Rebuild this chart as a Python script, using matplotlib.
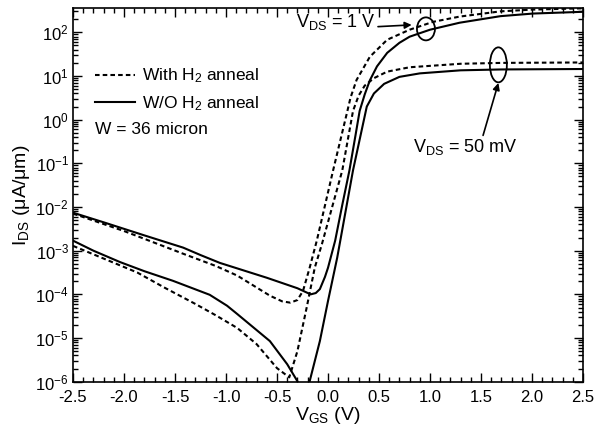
import numpy as np
import matplotlib
matplotlib.use('Agg')
import matplotlib.pyplot as plt
from matplotlib.patches import Ellipse
from matplotlib.ticker import MultipleLocator, FormatStrFormatter, LogLocator

plt.rcParams['font.family'] = ['Liberation Sans', 'DejaVu Sans']
plt.rcParams['mathtext.fontset'] = 'custom'
plt.rcParams['mathtext.rm'] = 'Liberation Sans'
plt.rcParams['mathtext.it'] = 'Liberation Sans:italic'
plt.rcParams['axes.unicode_minus'] = False

# values: V_GS (V) and log10(I_DS in uA/um)
# W/O H2 anneal, V_DS = 1 V
vgs_wo_1v = [-2.5, -2.2, -1.8, -1.42, -1.25, -1.06, -0.6, -0.3, -0.17, -0.12,
             -0.08, -0.03, 0.0, 0.07, 0.14, 0.21, 0.27, 0.31, 0.36, 0.41,
             0.48, 0.58, 0.70, 0.80, 1.0, 1.29, 1.69, 2.01, 2.5]
log_wo_1v = [-2.13, -2.35, -2.65, -2.93, -3.1, -3.28, -3.62, -3.86, -4.0, -3.97,
             -3.88, -3.6, -3.39, -2.77, -1.95, -1.16, -0.35, 0.2, 0.58, 0.9,
             1.22, 1.53, 1.76, 1.90, 2.06, 2.22, 2.37, 2.43, 2.47]

# With H2 anneal, V_DS = 1 V
vgs_h2_1v = [-2.5, -2.0, -1.42, -1.1, -0.89, -0.57, -0.45, -0.37, -0.30, -0.245,
             -0.18, -0.11, 0.05, 0.19, 0.22, 0.28, 0.41, 0.58, 0.80, 1.03,
             1.29, 1.69, 2.0, 2.5]
log_h2_1v = [-2.15, -2.55, -3.07, -3.35, -3.57, -4.03, -4.16, -4.19, -4.13, -3.92,
             -3.39, -2.77, -1.16, 0.2, 0.5, 0.91, 1.44, 1.83, 2.06, 2.24,
             2.36, 2.48, 2.52, 2.55]

# W/O H2 anneal, V_DS = 50 mV
vgs_wo_50 = [-2.5, -2.3, -2.04, -1.8, -1.52, -1.16, -0.99, -0.89, -0.57, -0.40,
             -0.30, -0.24, -0.18, -0.08, 0.0, 0.09, 0.245, 0.38, 0.45, 0.55,
             0.70, 0.90, 1.3, 1.7, 2.5]
log_wo_50 = [-2.77, -3.0, -3.26, -3.47, -3.69, -4.01, -4.26, -4.45, -5.07, -5.60,
             -5.99, -6.4, -5.99, -5.07, -4.15, -3.16, -1.16, 0.3, 0.6, 0.82,
             0.98, 1.06, 1.13, 1.15, 1.16]

# With H2 anneal, V_DS = 50 mV
vgs_h2_50 = [-2.5, -2.2, -1.87, -1.6, -1.3, -1.1, -0.89, -0.70, -0.50, -0.38,
             -0.30, -0.21, -0.13, -0.06, 0.14, 0.245, 0.30, 0.36, 0.45, 0.58,
             0.80, 1.3, 1.7, 2.5]
log_h2_50 = [-2.89, -3.18, -3.5, -3.85, -4.22, -4.48, -4.77, -5.14, -5.69, -5.9,
             -5.3, -4.31, -3.39, -2.85, -1.16, 0.2, 0.55, 0.78, 0.95, 1.1,
             1.2, 1.28, 1.3, 1.31]

xticks = [-2.5, -2.0, -1.5, -1.0, -0.5, 0.0, 0.5, 1.0, 1.5, 2.0, 2.5]

fig = plt.figure(figsize=(5.97, 4.34), dpi=100)
ax = fig.add_axes([0.1223, 0.1205, 0.8543, 0.861])

dash = (0, (2.2, 1.5))
ax.plot(vgs_h2_1v, 10**np.array(log_h2_1v), color='black', lw=1.5, ls=dash,
        label='With H$_{2}$ anneal')
ax.plot(vgs_wo_1v, 10**np.array(log_wo_1v), color='black', lw=1.5,
        label='W/O H$_{2}$ anneal')
ax.plot(vgs_h2_50, 10**np.array(log_h2_50), color='black', lw=1.5, ls=dash)
ax.plot(vgs_wo_50, 10**np.array(log_wo_50), color='black', lw=1.5)

ax.set_yscale('log')
ax.set_xlim(-2.5, 2.5)
ax.set_ylim(1e-6, 3.6e2)
ax.set_xticks(xticks)
ax.xaxis.set_major_formatter(FormatStrFormatter('%.1f'))
ax.xaxis.set_minor_locator(MultipleLocator(0.1))
ax.yaxis.set_major_locator(LogLocator(base=10, numticks=20))
ax.yaxis.set_minor_locator(LogLocator(base=10, subs=np.arange(2, 10), numticks=20))

ax.tick_params(which='both', direction='in', top=True, right=True, width=1)
ax.tick_params(which='major', length=6.5, labelsize=12)
ax.tick_params(which='minor', length=3.5)
ax.tick_params(axis='x', pad=6)
ax.tick_params(axis='y', pad=3)
for s in ax.spines.values():
    s.set_linewidth(1.2)

ax.set_xlabel('V$_{\\mathrm{GS}}$ (V)', fontsize=14, labelpad=0)
ax.set_ylabel('I$_{\\mathrm{DS}}$ (μA/μm)', fontsize=14, labelpad=2)

leg = ax.legend(loc='upper left', bbox_to_anchor=(0.043, 0.843), frameon=False,
                fontsize=12.5, handlelength=2.3, handletextpad=0.4,
                labelspacing=0.5, borderpad=0, borderaxespad=0)
ax.text(0.043, 0.676, 'W = 36 micron', transform=ax.transAxes, fontsize=12.5,
        va='center', ha='left')

# annotations
def to_axes(x, y):
    return ax.transAxes.inverted().transform(ax.transData.transform((x, y)))

c1 = to_axes(0.96, 120)
ax.add_patch(Ellipse(c1, 18 / 510, 23 / 373.7, transform=ax.transAxes,
                     fill=False, lw=1.3, color='black'))
c2 = to_axes(1.67, 18)
ax.add_patch(Ellipse(c2, 17 / 510, 35 / 373.7, transform=ax.transAxes,
                     fill=False, lw=1.3, color='black'))

ax.text(-0.31, 10**2.24, 'V$_{\\mathrm{DS}}$ = 1 V', fontsize=13, va='center', ha='left')
ax.annotate('', xy=(0.82, 10**2.17), xytext=(0.49, 10**2.13),
            arrowprops=dict(arrowstyle='-|>', color='black', lw=1.2,
                            mutation_scale=10, shrinkA=0, shrinkB=0))
ax.text(0.83, 10**-0.63, 'V$_{\\mathrm{DS}}$ = 50 mV', fontsize=13, va='center', ha='left')
ax.annotate('', xy=(1.67, 10**0.84), xytext=(1.52, 10**-0.36),
            arrowprops=dict(arrowstyle='-|>', color='black', lw=1.2,
                            mutation_scale=10, shrinkA=0, shrinkB=0))

fig.savefig('out.png', dpi=100)
